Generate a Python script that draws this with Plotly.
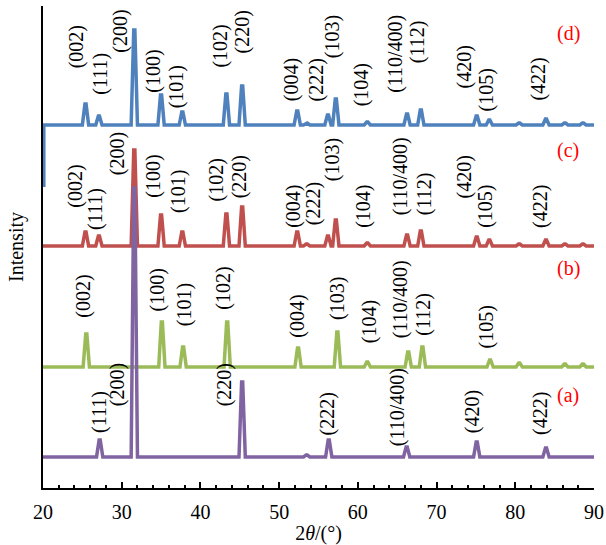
import plotly.graph_objects as go

# ---------------- data ----------------
x_range = [20, 90]
x_ticks = [20, 30, 40, 50, 60, 70, 80, 90]

# baseline offsets of each stacked pattern (arbitrary intensity units)
offset_a = 31
offset_b = 121
offset_c = 242
offset_d = 363

# peak positions (2theta, deg) and peak heights above baseline
pos_a = [27.2, 31.6, 45.3, 53.5, 56.3, 66.2, 75.1, 83.9]
int_a = [17, 269, 75, 2, 17, 10, 15, 9]

pos_b = [25.5, 35.1, 37.8, 43.4, 52.4, 57.4, 61.2, 66.4, 68.2, 76.8, 80.5, 86.3, 88.6]
int_b = [33, 45, 20, 45, 19, 35, 5, 15, 20, 7, 4, 3, 3]

pos_c = [25.4, 27.1, 31.6, 35.0, 37.7, 43.3, 45.3, 52.3, 53.5, 56.2, 57.2, 61.2,
         66.25, 68.0, 75.1, 76.7, 80.5, 83.9, 86.3, 88.6]
int_c = [14, 10, 96, 31, 14, 32, 39, 14, 2, 10, 26, 3, 11, 15, 9, 6, 2, 6, 2, 2]

pos_d = [25.4, 27.1, 31.6, 35.0, 37.7, 43.3, 45.3, 52.3, 53.5, 56.2, 57.2, 61.2,
         66.25, 68.0, 75.1, 76.7, 80.5, 83.9, 86.3, 88.6]
int_d = [21, 9, 95, 30, 13, 31, 39, 14, 2, 10, 26, 3, 11, 15, 9, 5, 2, 6, 2, 2]
# short vertical blue stub at the left edge of pattern (d)
stub_d_x = 20.1
stub_d_low = 301

# hkl labels per pattern
lab_a = ["(111)", "(200)", "(220)", "(222)", "(110/400)", "(420)", "(422)"]
lab_b = ["(002)", "(100)", "(101)", "(102)", "(004)", "(103)", "(104)",
         "(110/400)", "(112)", "(105)"]
lab_cd = ["(002)", "(111)", "(200)", "(100)", "(101)", "(102)", "(220)", "(004)",
          "(222)", "(103)", "(104)", "(110/400)", "(112)", "(420)", "(105)", "(422)"]

# ---------------- label placement (layout) ----------------
labx_a = [27.1, 29.5, 43.1, 56.2, 65.0, 74.6, 83.2]
laby_a = [53, 80, 80, 51, 40, 53, 51]
labx_b = [25.1, 34.6, 38.0, 42.9, 52.3, 57.4, 61.5, 65.4, 68.3, 76.4]
laby_b = [168, 175, 160, 176, 148, 166, 143, 148, 150, 138]
labx_c = [24.1, 26.6, 29.5, 34.0, 37.2, 42.1, 45.0, 51.8, 54.4, 56.8, 60.7, 65.4,
          68.5, 73.6, 76.2, 83.2]
laby_c = [278, 256, 311, 288, 273, 285, 288, 258, 261, 305, 258, 271, 271, 288, 258, 258]
labx_d = [24.3, 27.2, 29.8, 34.0, 37.0, 42.5, 45.4, 51.6, 54.8, 56.8, 60.5, 64.7,
          67.6, 73.6, 76.4, 82.9]
laby_d = [418, 391, 433, 393, 378, 418, 433, 385, 385, 428, 380, 393, 423, 398, 375, 385]

tag_x = 86.7
tag_y = [93, 220, 338, 455]  # (a), (b), (c), (d)

colors = {"a": "#8064A2", "b": "#9BBB59", "c": "#C0504D", "d": "#4F81BD"}
FONT = "Liberation Serif"
HALF = 0.4    # half base width of a drawn peak
TIP = 0.07    # half tip width


def profile(offset, pos, inten):
    xs, ys = [x_range[0]], [offset]
    for p, h in sorted(zip(pos, inten)):
        xs += [p - HALF, p - TIP, p + TIP, p + HALF]
        ys += [offset, offset + h, offset + h, offset]
    xs.append(x_range[1])
    ys.append(offset)
    return xs, ys


fig = go.Figure()

xd, yd = profile(offset_d, pos_d, int_d)
xd = [stub_d_x, stub_d_x] + xd
yd = [stub_d_low, offset_d] + yd
series = [("d", xd, yd),
          ("c",) + profile(offset_c, pos_c, int_c),
          ("b",) + profile(offset_b, pos_b, int_b),
          ("a",) + profile(offset_a, pos_a, int_a)]
for key, xs, ys in series:
    fig.add_trace(go.Scatter(x=xs, y=ys, mode="lines",
                             line=dict(color=colors[key], width=3.5),
                             showlegend=False, hoverinfo="skip"))

annotations = []
for labs, lx, ly in [(lab_a, labx_a, laby_a), (lab_b, labx_b, laby_b),
                     (lab_cd, labx_c, laby_c), (lab_cd, labx_d, laby_d)]:
    for t, x, y in zip(labs, lx, ly):
        annotations.append(dict(x=x, y=y, xref="x", yref="y", text=t, textangle=-90,
                                showarrow=False, xanchor="center", yanchor="bottom",
                                font=dict(family=FONT, size=20, color="black")))
for t, y in zip(["(a)", "(b)", "(c)", "(d)"], tag_y):
    annotations.append(dict(x=tag_x, y=y, xref="x", yref="y", text=t, showarrow=False,
                            xanchor="center", yanchor="middle",
                            font=dict(family=FONT, size=20, color="#FF0000")))

fig.update_layout(
    width=606, height=545,
    margin=dict(l=43, r=12, t=6, b=57, autoexpand=False),
    paper_bgcolor="white", plot_bgcolor="white",
    font=dict(family=FONT, size=20, color="black"),
    annotations=annotations,
    xaxis=dict(range=x_range, tickvals=x_ticks, ticks="inside", ticklen=6, tickwidth=1.5,
               tickcolor="black", showline=True, linecolor="black", linewidth=2,
               showgrid=False, zeroline=False, automargin=False, ticklabelstandoff=5,
               minor=dict(dtick=2, ticks="inside", ticklen=3, tickwidth=1.5, tickcolor="black"),
               tickfont=dict(family=FONT, size=20),
               title=dict(text="2<i>θ</i>/(°)", font=dict(family=FONT, size=20), standoff=6)),
    yaxis=dict(range=[0, 482], showticklabels=False, ticks="", showline=True,
               linecolor="black", linewidth=2, showgrid=False, zeroline=False,
               automargin=False,
               title=dict(text="Intensity", font=dict(family=FONT, size=20), standoff=12)),
)

fig.write_html("out.html", config={"displayModeBar": False},
               post_script="document.body.style.margin='0';")
